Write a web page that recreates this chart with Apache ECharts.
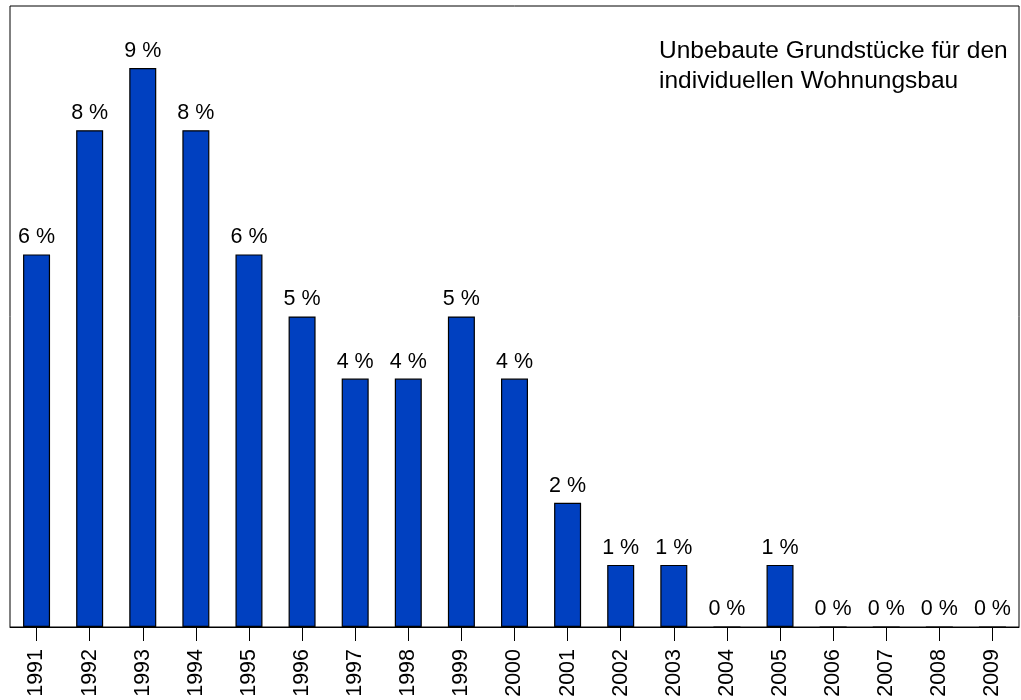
<!DOCTYPE html>
<html>
<head>
<meta charset="utf-8">
<script src="https://cdn.jsdelivr.net/npm/echarts@6/dist/echarts.min.js"></script>
<style>html,body{margin:0;padding:0;background:#fff}#c{width:1021px;height:700px}</style>
</head>
<body>
<div id="c"></div>
<script>
const years = ['1991','1992','1993','1994','1995','1996','1997','1998','1999','2000','2001','2002','2003','2004','2005','2006','2007','2008','2009'];
const values = [6, 8, 9, 8, 6, 5, 4, 4, 5, 4, 2, 1, 1, 0, 1, 0, 0, 0, 0];
const titleLines = ['Unbebaute Grundstücke für den', 'individuellen Wohnungsbau'];
const yMin = 0, yMax = 10;

const FONT = '"Liberation Sans", Arial, Helvetica, sans-serif';
const chart = echarts.init(document.getElementById('c'));
chart.setOption({
  animation: false,
  backgroundColor: '#ffffff',
  title: {
    text: titleLines.join('\n'),
    left: 654, top: 31,
    textStyle: { fontFamily: FONT, fontSize: 24.5, fontWeight: 'normal', color: '#000', lineHeight: 30 }
  },
  grid: { left: 10, right: 2, top: 6, bottom: 73, show: true, borderColor: '#000', borderWidth: 1, backgroundColor: 'transparent' },
  xAxis: {
    type: 'category', data: years, boundaryGap: true,
    axisLine: { show: true, lineStyle: { color: '#000', width: 1 } },
    axisTick: { show: true, alignWithLabel: true, length: 14, lineStyle: { color: '#000', width: 1 } },
    axisLabel: { rotate: 90, margin: 22, fontFamily: FONT, fontSize: 21.5, color: '#000', interval: 0 }
  },
  yAxis: {
    type: 'value', min: yMin, max: yMax, show: false, splitLine: { show: false }
  },
  series: [{
    type: 'bar', data: values, barWidth: 27,
    itemStyle: { color: '#0040C0', borderColor: '#000', borderWidth: 1.2 },
    label: { show: true, position: 'top', distance: 6, formatter: p => p.value + ' %', fontFamily: FONT, fontSize: 21.5, color: '#000' }
  }]
});
</script>
</body>
</html>
